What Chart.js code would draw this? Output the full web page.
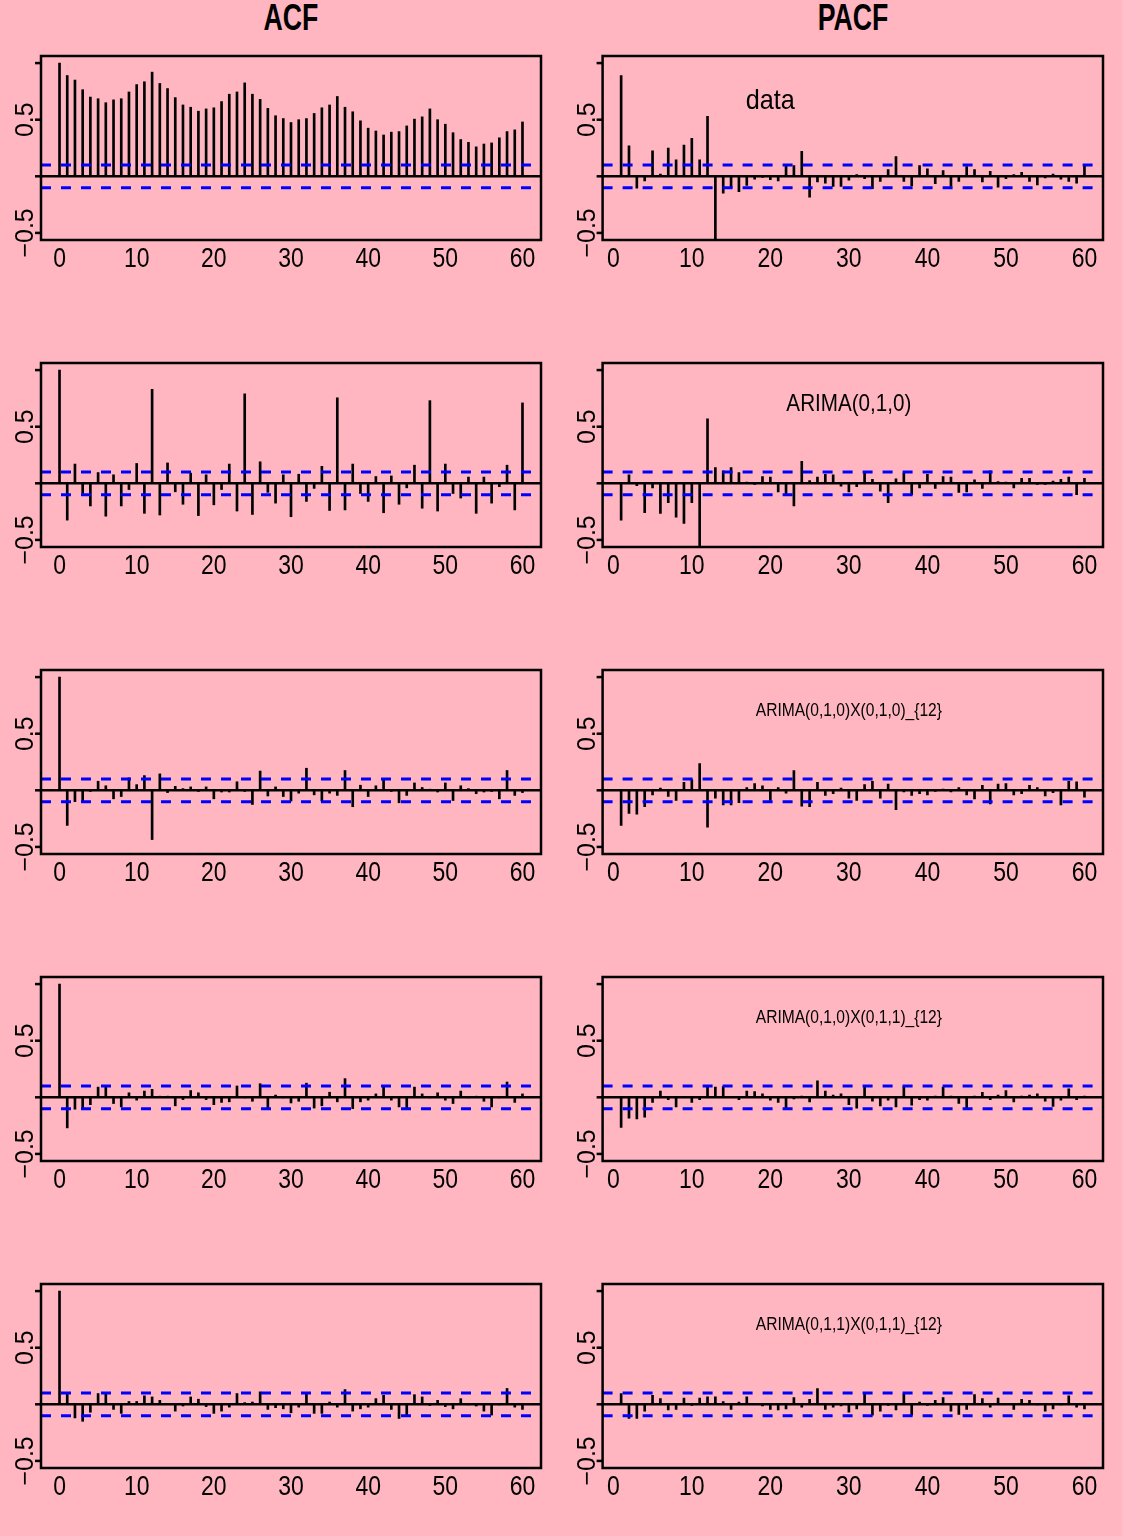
<!DOCTYPE html>
<html>
<head>
<meta charset="utf-8">
<script src="https://cdn.jsdelivr.net/npm/chart.js@4"></script>
<style>
  html, body { margin: 0; padding: 0; background: #FFB6C1; }
  #page { position: relative; width: 1122px; height: 1536px; background: #FFB6C1; overflow: hidden; }
  .panel { position: absolute; }
  .colTitle { position: absolute; top: -3px; width: 200px; text-align: center;
    font: bold 31px "Liberation Sans", Arial, sans-serif;
    transform: scale(0.86, 1.18); transform-origin: top center; color: #000; }
</style>
</head>
<body>
<div id="page">
  <div class="colTitle" style="left:191px">ACF</div>
  <div class="colTitle" style="left:753px">PACF</div>
</div>
<script>
const acfLags = [0,1,2,3,4,5,6,7,8,9,10,11,12,13,14,15,16,17,18,19,20,21,22,23,24,25,26,27,28,29,30,
  31,32,33,34,35,36,37,38,39,40,41,42,43,44,45,46,47,48,49,50,51,52,53,54,55,56,57,58,59,60];
const pacfLags = acfLags.slice(1);
const xTicks = [0, 10, 20, 30, 40, 50, 60];
const yTicks = [-0.5, 0, 0.5, 1];
const yTickLabels = ['\u22120.5', '', '0.5', ''];
const ciBound = 0.1;

const modelLabels = ['data', 'ARIMA(0,1,0)', 'ARIMA(0,1,0)X(0,1,0)_{12}',
  'ARIMA(0,1,0)X(0,1,1)_{12}', 'ARIMA(0,1,1)X(0,1,1)_{12}'];

// raw series
const acfData = [1.0,0.89,0.85,0.765,0.70,0.685,0.65,0.675,0.685,0.745,0.81,0.835,0.92,0.82,0.775,0.695,0.63,0.61,0.575,0.595,
  0.605,0.66,0.725,0.745,0.825,0.725,0.68,0.60,0.535,0.51,0.475,0.50,0.51,0.555,0.605,0.63,0.705,0.61,0.57,0.49,
  0.425,0.40,0.365,0.39,0.395,0.445,0.505,0.525,0.595,0.50,0.46,0.385,0.325,0.30,0.26,0.285,0.295,0.34,0.395,0.41,0.48];
const pacfData = [0.89,0.27,-0.105,-0.04,0.225,0.02,0.25,0.145,0.275,0.335,0.145,0.53,-0.56,-0.15,-0.10,-0.135,-0.08,-0.025,-0.01,-0.03,
  -0.04,0.095,0.095,0.22,-0.185,-0.05,-0.06,-0.09,-0.09,-0.035,0.015,-0.02,-0.11,-0.045,0.06,0.175,-0.045,-0.085,0.095,0.065,
  -0.065,0.05,-0.09,-0.045,0.085,0.06,-0.05,0.045,-0.095,-0.02,0.015,0.035,-0.045,-0.075,-0.015,0.02,-0.025,-0.045,-0.06,0.095];

// ARIMA(0,1,0)
const acfArima010 = [1.0,-0.325,0.17,-0.09,-0.20,0.095,-0.29,0.075,-0.20,-0.055,0.175,-0.265,0.83,-0.28,0.18,-0.075,-0.185,0.09,-0.285,0.075,
  -0.19,-0.055,0.17,-0.245,0.79,-0.275,0.19,-0.08,-0.175,0.075,-0.295,0.08,-0.16,-0.045,0.15,-0.24,0.755,-0.235,0.17,-0.09,
  -0.16,0.06,-0.26,0.065,-0.185,-0.04,0.16,-0.22,0.73,-0.245,0.17,-0.09,-0.13,0.055,-0.265,0.055,-0.175,-0.03,0.16,-0.235,0.71];
const pacfArima010 = [-0.325,0.075,-0.02,-0.26,-0.04,-0.265,-0.17,-0.30,-0.355,-0.17,-0.56,0.57,0.14,0.11,0.14,0.095,0.01,-0.01,0.06,0.055,
  -0.075,-0.10,-0.20,0.195,0.025,0.055,0.08,0.075,-0.025,-0.075,-0.03,0.095,0.035,-0.07,-0.17,0.04,0.09,-0.10,-0.04,0.08,
  -0.045,0.06,0.055,-0.08,-0.075,0.03,-0.045,0.11,0.015,0.01,-0.04,0.045,0.045,-0.01,-0.01,0.02,0.035,0.055,-0.10,0.045];

// ARIMA(0,1,0)X(0,1,0)_{12}
const acfSeas010 = [1.0,-0.31,-0.10,-0.095,-0.01,0.08,0.04,-0.075,-0.055,0.11,0.05,0.13,-0.435,0.145,-0.02,0.035,0.015,0.03,-0.01,0.03,
  -0.075,-0.015,-0.015,0.075,-0.01,-0.125,0.17,-0.05,0.03,-0.055,-0.095,-0.025,0.195,-0.04,-0.095,-0.025,-0.045,0.175,-0.145,0.045,
  -0.055,0.04,0.10,-0.01,-0.11,-0.045,0.065,0.025,0.01,-0.015,0.065,-0.09,0.04,0.015,-0.03,-0.015,-0.01,-0.075,0.175,-0.045,-0.02];
const pacfSeas010 = [-0.31,-0.205,-0.21,-0.145,-0.04,0.02,-0.055,-0.09,0.07,0.095,0.235,-0.325,-0.07,-0.13,-0.13,-0.11,0.025,0.06,0.04,-0.09,
  0.025,-0.025,0.175,-0.14,-0.145,0.07,-0.045,-0.03,0.02,-0.07,-0.09,0.05,0.08,-0.07,0.055,-0.17,-0.015,-0.045,-0.03,-0.04,
  -0.01,0.01,-0.015,0.025,-0.04,-0.075,0.045,-0.12,0.055,0.06,-0.04,-0.03,0.045,0.025,-0.05,-0.02,-0.13,0.08,0.075,-0.06];

// ARIMA(0,1,0)X(0,1,1)_{12}
const acfSeas011 = [1.0,-0.27,-0.105,-0.10,-0.065,0.09,0.09,-0.055,-0.085,0.04,-0.025,0.055,0.07,0.01,0.01,-0.075,-0.02,0.06,0.04,-0.02,
  -0.065,-0.045,-0.04,0.10,-0.005,-0.035,0.12,-0.095,0.02,-0.005,-0.05,-0.035,0.125,-0.095,-0.075,0.045,-0.04,0.165,-0.10,-0.04,
  -0.025,0.03,0.09,-0.025,-0.085,-0.095,0.09,0.03,-0.005,0.04,-0.025,-0.055,0.055,-0.005,0.01,-0.035,-0.085,-0.005,0.135,-0.045,0.03];
const pacfSeas011 = [-0.265,-0.185,-0.19,-0.175,-0.045,0.055,-0.02,-0.085,0.0,-0.045,-0.02,0.09,0.09,0.095,0.0,-0.02,0.055,0.05,0.03,-0.025,
  -0.045,-0.095,-0.015,0.01,-0.04,0.145,0.055,0.02,0.03,-0.065,-0.095,0.09,-0.035,-0.075,-0.025,-0.085,0.10,-0.07,-0.02,-0.025,
  0.01,0.09,0.01,-0.055,-0.105,0.01,0.045,-0.02,0.02,0.06,-0.04,0.01,0.02,0.03,-0.035,-0.08,-0.025,0.075,-0.02,0.01];

// ARIMA(0,1,1)X(0,1,1)_{12}
const acfSeas111 = [1.0,0.095,-0.12,-0.15,-0.07,0.095,0.095,-0.045,-0.08,0.025,0.025,0.075,0.065,0.035,0.005,-0.06,-0.015,0.065,0.045,-0.02,
  -0.08,-0.06,-0.025,0.095,0.015,0.02,0.11,-0.045,-0.03,-0.04,-0.075,-0.025,0.09,-0.08,-0.08,0.02,-0.025,0.13,-0.06,-0.04,
  -0.025,0.05,0.08,-0.045,-0.125,-0.095,0.085,0.065,-0.01,0.035,-0.02,-0.04,0.05,-0.005,-0.015,-0.06,-0.095,-0.005,0.14,-0.025,-0.045];
const pacfSeas111 = [0.095,-0.125,-0.125,-0.06,0.08,0.05,-0.05,-0.045,0.055,-0.01,0.055,0.065,0.065,0.025,-0.045,0.02,0.065,0.005,-0.015,-0.045,
  -0.05,-0.04,0.06,-0.025,0.045,0.14,-0.045,-0.025,-0.015,-0.07,-0.04,0.09,-0.095,-0.06,-0.01,-0.05,0.095,-0.095,0.02,-0.01,
  0.035,0.06,-0.06,-0.09,-0.045,0.085,0.05,-0.025,0.055,0.005,-0.045,0.045,0.035,-0.005,-0.06,-0.04,-0.005,0.075,-0.025,-0.04];

const acfSeries = [acfData, acfArima010, acfSeas010, acfSeas011, acfSeas111];
const pacfSeries = [pacfData, pacfArima010, pacfSeas010, pacfSeas011, pacfSeas111];

const regular = '"Liberation Sans", Arial, sans-serif';

// text squeezed sideways, the R output looks tall and narrow
function squeezedText(ctx, txt, px, py, sx) {
  ctx.save();
  ctx.translate(px, py);
  ctx.scale(sx, 1);
  ctx.fillText(txt, 0, 0);
  ctx.restore();
}

function framePlugin(label, labelAt, labelSize, labelScale) {
  return {
    id: 'acfFrame',
    afterDatasetsDraw(chart) {
      const { ctx, chartArea: a, scales: { x, y } } = chart;
      ctx.save();
      // zero line
      ctx.strokeStyle = '#000';
      ctx.lineWidth = 2.5;
      const y0 = y.getPixelForValue(0);
      ctx.beginPath();
      ctx.moveTo(a.left, y0);
      ctx.lineTo(a.right, y0);
      ctx.stroke();
      // significance bounds
      ctx.strokeStyle = '#0000FF';
      ctx.lineWidth = 3;
      ctx.setLineDash([10, 10]);
      [ciBound, -ciBound].forEach(v => {
        const p = y.getPixelForValue(v);
        ctx.beginPath();
        ctx.moveTo(a.left, p);
        ctx.lineTo(a.right, p);
        ctx.stroke();
      });
      ctx.setLineDash([]);
      // box
      ctx.strokeStyle = '#000';
      ctx.lineWidth = 2.5;
      ctx.strokeRect(a.left, a.top, a.right - a.left, a.bottom - a.top);
      // y ticks + rotated labels
      ctx.fillStyle = '#000';
      ctx.font = '25px ' + regular;
      ctx.textAlign = 'center';
      ctx.textBaseline = 'alphabetic';
      yTicks.forEach((v, i) => {
        const p = y.getPixelForValue(v);
        ctx.beginPath();
        ctx.moveTo(a.left - 6, p);
        ctx.lineTo(a.left, p);
        ctx.stroke();
        if (yTickLabels[i]) {
          ctx.save();
          ctx.translate(a.left - 8, p);
          ctx.rotate(-Math.PI / 2);
          ctx.fillText(yTickLabels[i], 0, 0);
          ctx.restore();
        }
      });
      // x tick labels
      ctx.font = '28px ' + regular;
      xTicks.forEach(v => squeezedText(ctx, String(v), x.getPixelForValue(v), a.bottom + 27, 0.82));
      // model label
      if (label) {
        ctx.font = labelSize + 'px ' + regular;
        ctx.textBaseline = 'middle';
        squeezedText(ctx, label, x.getPixelForValue(labelAt[0]), y.getPixelForValue(labelAt[1]), labelScale);
      }
      ctx.restore();
    }
  };
}

function makePanel(left, top, lags, values, xMin, xMax, padL, padR, label, labelAt, labelSize, labelScale) {
  const holder = document.createElement('div');
  holder.className = 'panel';
  holder.style.left = left + 'px';
  holder.style.top = top + 'px';
  const cv = document.createElement('canvas');
  cv.width = 561;
  cv.height = 240;
  holder.appendChild(cv);
  document.getElementById('page').appendChild(holder);

  new Chart(cv.getContext('2d'), {
    type: 'bar',
    data: {
      datasets: [{
        data: lags.map((l, i) => ({ x: l, y: values[i] })),
        backgroundColor: '#000',
        borderWidth: 0,
        barThickness: 2
      }]
    },
    options: {
      responsive: false,
      animation: false,
      devicePixelRatio: 1,
      layout: { padding: { left: padL, right: padR, top: 16, bottom: 0 } },
      plugins: { legend: { display: false }, tooltip: { enabled: false } },
      scales: {
        x: {
          type: 'linear',
          min: xMin,
          max: xMax,
          offset: false,
          grid: { display: false, drawTicks: false },
          border: { display: false },
          afterBuildTicks: s => { s.ticks = xTicks.map(v => ({ value: v })); },
          afterFit: s => { s.height = 40; },
          ticks: { display: false }
        },
        y: {
          display: false,
          min: -0.5625,
          max: 1.0625
        }
      }
    },
    plugins: [framePlugin(label, labelAt, labelSize, labelScale)]
  });
}

const labelSpots = [[20, 0.66], [30, 0.70], [30, 0.70], [30, 0.70], [30, 0.70]];
const labelSizes = [28, 24, 19, 19, 19];
const labelScales = [0.9, 0.86, 0.82, 0.82, 0.82];

for (let r = 0; r < 5; r++) {
  const top = 40 + 307 * r;
  makePanel(0, top, acfLags, acfSeries[r], -2.4, 62.4, 41, 20, null, null, 0, 1);
  makePanel(561, top, pacfLags, pacfSeries[r], -1.36, 62.36, 41.6, 19,
    modelLabels[r], labelSpots[r], labelSizes[r], labelScales[r]);
}
</script>
</body>
</html>
